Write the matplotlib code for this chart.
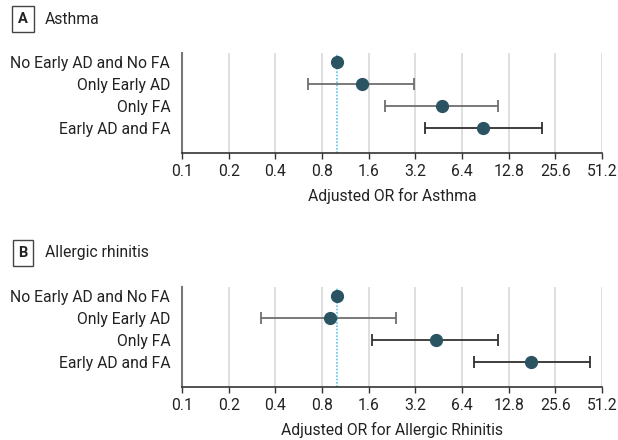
import matplotlib.pyplot as plt
from matplotlib.ticker import FixedLocator, FixedFormatter, NullLocator

plt.rcParams['font.family'] = ['Roboto', 'DejaVu Sans']

groups = ['No Early AD and No FA', 'Only Early AD', 'Only FA', 'Early AD and FA']
tick_vals = [0.1, 0.2, 0.4, 0.8, 1.6, 3.2, 6.4, 12.8, 25.6, 51.2]
tick_labels = ['0.1', '0.2', '0.4', '0.8', '1.6', '3.2', '6.4', '12.8', '25.6', '51.2']

# Panel A: asthma
asthma_or = [1.0, 1.44, 4.76, 8.7]
asthma_lo = [1.0, 0.65, 2.05, 3.70]
asthma_hi = [1.0, 3.16, 11.0, 21.0]

# Panel B: allergic rhinitis
rhin_or = [1.0, 0.90, 4.34, 17.9]
rhin_lo = [1.0, 0.325, 1.69, 7.62]
rhin_hi = [1.0, 2.41, 10.9, 42.8]

W, H = 618, 440
fig = plt.figure(figsize=(W / 100, H / 100), dpi=100)

marker_col = '#2b5463'
ref_col = '#5cc6ea'
FS = 11.3


def panel(top_px, letter, title, xlabel, est, lo, hi, line_cols):
    left, right, bottom = 182, 602, top_px + 100
    ax = fig.add_axes([left / W, 1 - bottom / H, (right - left) / W, 100 / H])
    ax.set_xscale('log', base=2)
    ax.set_xlim(tick_vals[0], tick_vals[-1])
    ax.set_ylim(4.14, -0.41)
    for v in tick_vals[1:]:
        ax.axvline(v, color='#dcdcdc', lw=1.3, zorder=0)
    ax.axvline(1.0, color=ref_col, lw=1.2, ls=(0, (1, 1)), zorder=1)
    for i in range(len(groups)):
        if i > 0:
            ax.errorbar(est[i], i, xerr=[[est[i] - lo[i]], [hi[i] - est[i]]],
                        fmt='none', ecolor=line_cols[i], elinewidth=1.3,
                        capsize=4, capthick=1.3, zorder=2)
        ax.plot(est[i], i, 'o', color=marker_col, ms=8.5, zorder=3)
    ax.xaxis.set_major_locator(FixedLocator(tick_vals))
    ax.xaxis.set_major_formatter(FixedFormatter(tick_labels))
    ax.xaxis.set_minor_locator(NullLocator())
    ax.set_yticks(range(len(groups)))
    ax.set_yticklabels(groups)
    ax.tick_params(axis='y', length=0, pad=8.5, labelsize=FS, colors='#222222')
    ax.tick_params(axis='x', length=4, width=1, color='#333333', pad=4,
                   labelsize=FS, labelcolor='#222222')
    for s in ['top', 'right']:
        ax.spines[s].set_visible(False)
    ax.spines['left'].set_color('#777777')
    ax.spines['left'].set_linewidth(1.5)
    ax.spines['bottom'].set_color('#333333')
    ax.spines['bottom'].set_linewidth(1.2)
    ax.set_xlabel(xlabel, fontsize=FS, color='#222222', labelpad=6.5)
    ty = top_px - 34
    fig.text(23 / W, 1 - ty / H, letter, ha='center', va='center', fontsize=FS - 0.8,
             fontweight='bold', color='#222222',
             bbox=dict(boxstyle='square,pad=0.4', fc='white', ec='#444444', lw=1))
    fig.text(45 / W, 1 - ty / H, title, ha='left', va='center', fontsize=FS,
             color='#222222')
    return ax


panel(53, 'A', 'Asthma', 'Adjusted OR for Asthma', asthma_or, asthma_lo, asthma_hi,
      ['#666666', '#6e6e6e', '#6e6e6e', '#2e2e2e'])
panel(287, 'B', 'Allergic rhinitis', 'Adjusted OR for Allergic Rhinitis',
      rhin_or, rhin_lo, rhin_hi,
      ['#666666', '#6e6e6e', '#333333', '#2e2e2e'])

fig.savefig('out.png', dpi=100)
